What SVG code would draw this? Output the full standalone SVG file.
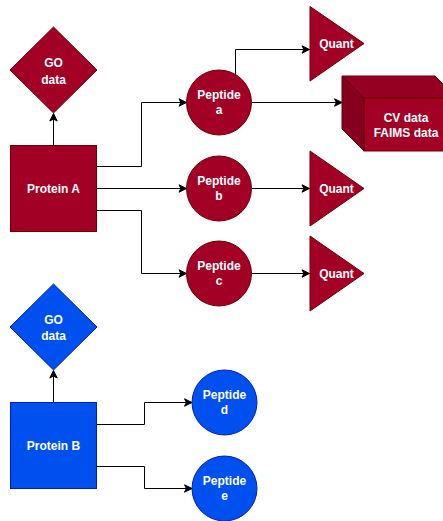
<svg xmlns="http://www.w3.org/2000/svg" width="443" height="521" viewBox="0 0 443 521">
  <style>
    .red { fill: #a20025; stroke: #6f0000; stroke-width: 1; }
    .blue { fill: #0050ef; stroke: #001dbc; stroke-width: 1; }
    .lbl { font-family: "Liberation Sans", Arial, Helvetica, sans-serif; font-size: 12px; font-weight: bold; fill: #ffffff; text-anchor: middle; }
    .edge { fill: none; stroke: #000000; stroke-width: 1; }
  </style>
  <defs>
    <marker id="arrow" markerUnits="userSpaceOnUse" markerWidth="10" markerHeight="10" refX="9" refY="5" orient="auto">
      <path d="M9,5 L1.5,1.3 L3.4,5 L1.5,8.7 Z" fill="#000000" stroke="#000000" stroke-width="1"/>
    </marker>
  </defs>
  <rect width="443" height="521" fill="#ffffff"/>

  <!-- connectors -->
  <g id="edges">
    <path class="edge" d="M53.5,145.5 V113.5" marker-end="url(#arrow)"/>
    <path class="edge" d="M96.5,166.5 H141.5 V102.5 H186.5" marker-end="url(#arrow)"/>
    <path class="edge" d="M96.5,188.5 H186.5" marker-end="url(#arrow)"/>
    <path class="edge" d="M96.5,210.5 H141.5 V273.5 H186.5" marker-end="url(#arrow)"/>
    <path class="edge" d="M235.5,75 V49.5 H309.5" marker-end="url(#arrow)"/>
    <path class="edge" d="M251.5,102.5 H342" marker-end="url(#arrow)"/>
    <path class="edge" d="M251.5,188.5 H309.5" marker-end="url(#arrow)"/>
    <path class="edge" d="M251.5,273.5 H309.5" marker-end="url(#arrow)"/>
    <path class="edge" d="M53.5,402.5 V370.5" marker-end="url(#arrow)"/>
    <path class="edge" d="M96.5,424.5 H144.5 V402.5 H192" marker-end="url(#arrow)"/>
    <path class="edge" d="M96.5,466.5 H144.5 V488.5 H192" marker-end="url(#arrow)"/>
  </g>

  <!-- protein A branch -->
  <g id="protein-a">
    <rect class="red" x="10.5" y="145.5" width="86" height="86"/>
    <text class="lbl" x="53.5" y="192.5">Protein A</text>
  </g>
  <g id="go-a">
    <polygon class="red" points="53.5,27 97,70 53.5,113 10,70"/>
    <text class="lbl" x="53.5" y="67">GO</text>
    <text class="lbl" x="53.5" y="83.5">data</text>
  </g>
  <g id="peptide-a">
    <circle class="red" cx="219" cy="102.5" r="32.5"/>
    <text class="lbl" x="219" y="98.5">Peptide</text>
    <text class="lbl" x="219" y="114">a</text>
  </g>
  <g id="peptide-b">
    <circle class="red" cx="219" cy="188.5" r="32.5"/>
    <text class="lbl" x="219" y="184.5">Peptide</text>
    <text class="lbl" x="219" y="200">b</text>
  </g>
  <g id="peptide-c">
    <circle class="red" cx="219" cy="273.5" r="32.5"/>
    <text class="lbl" x="219" y="269.5">Peptide</text>
    <text class="lbl" x="219" y="285">c</text>
  </g>
  <g id="quant-a">
    <polygon class="red" points="310,6.5 364,43.5 310,81"/>
    <text class="lbl" x="336.5" y="47.5">Quant</text>
  </g>
  <g id="quant-b">
    <polygon class="red" points="310,151 364,188.5 310,226"/>
    <text class="lbl" x="336.5" y="192.5">Quant</text>
  </g>
  <g id="quant-c">
    <polygon class="red" points="310,236 364,273.5 310,311"/>
    <text class="lbl" x="336.5" y="277.5">Quant</text>
  </g>
  <g id="cv-faims">
    <rect class="red" x="364" y="98" width="93" height="53"/>
    <polygon class="red" points="342,76 435,76 457,98 364,98" fill="#8f0021"/>
    <polygon class="red" points="342,76 364,98 364,151 342,129" fill="#7a001c"/>
    <polygon points="342,76 435,76 457,98 364,98" fill="#000000" fill-opacity="0.08"/>
    <polygon points="342,76 364,98 364,151 342,129" fill="#000000" fill-opacity="0.18"/>
    <text class="lbl" x="406" y="121.5">CV data</text>
    <text class="lbl" x="406" y="137">FAIMS data</text>
  </g>

  <!-- protein B branch -->
  <g id="protein-b">
    <rect class="blue" x="10.5" y="402.5" width="86" height="86"/>
    <text class="lbl" x="53.5" y="449.5">Protein B</text>
  </g>
  <g id="go-b">
    <polygon class="blue" points="53.5,284 97,327 53.5,370 10,327"/>
    <text class="lbl" x="53.5" y="323.5">GO</text>
    <text class="lbl" x="53.5" y="339.5">data</text>
  </g>
  <g id="peptide-d">
    <circle class="blue" cx="224.5" cy="402.5" r="32.5"/>
    <text class="lbl" x="224.5" y="398.5">Peptide</text>
    <text class="lbl" x="224.5" y="414">d</text>
  </g>
  <g id="peptide-e">
    <circle class="blue" cx="224.5" cy="488.5" r="32.5"/>
    <text class="lbl" x="224.5" y="484.5">Peptide</text>
    <text class="lbl" x="224.5" y="500">e</text>
  </g>
</svg>
